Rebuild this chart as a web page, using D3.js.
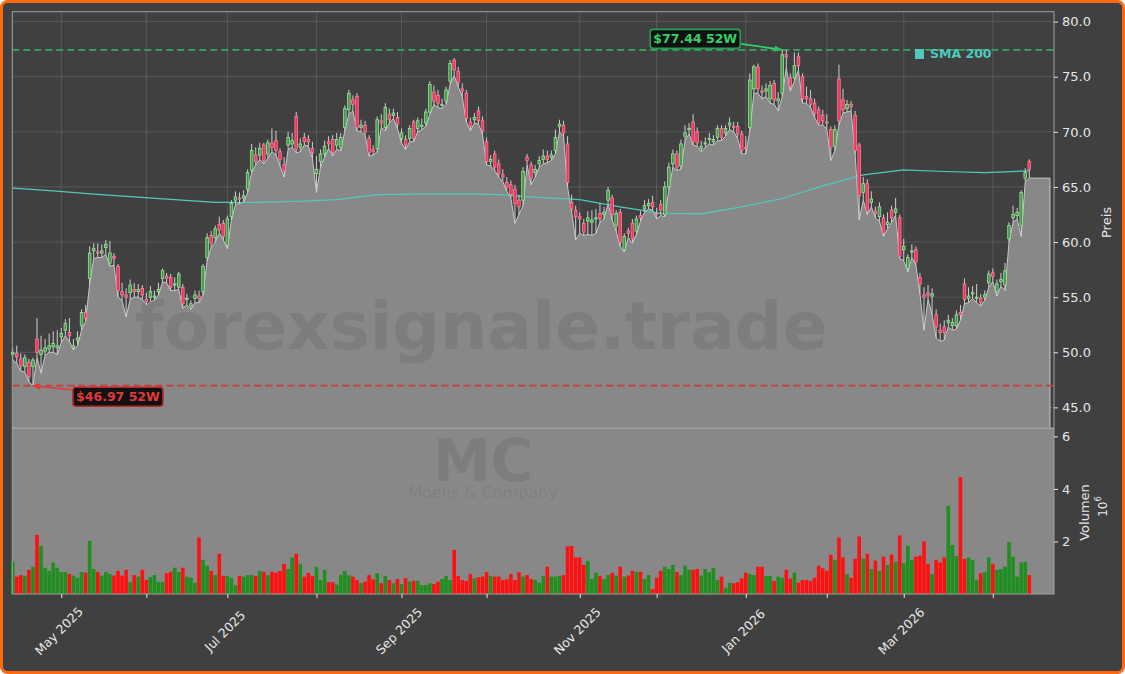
<!DOCTYPE html>
<html>
<head>
<meta charset="utf-8">
<script src="https://cdn.jsdelivr.net/npm/d3@7"></script>
<style>
html, body { margin: 0; padding: 0; background: #ffffff; }
svg { display: block; font-family: "DejaVu Sans", sans-serif; }
</style>
</head>
<body>
<div id="chart"></div>
<script>
// MC daily candles, index = trading day (Apr 14 2025 .. Apr 15 2026)
var opens = [
  49.8,49.9,49.4,48.7,49.1,48.7,51.2,49.8,50.1,50.3,
  50.5,50.4,51.4,52.0,51.8,50.4,51.1,52.4,53.6,56.7,
  59.2,59.1,59.0,59.5,58.1,58.7,57.8,55.5,55.2,55.4,
  55.7,55.5,55.8,54.8,55.0,55.0,55.5,56.7,56.9,56.8,
  56.1,55.9,55.9,54.8,54.2,54.9,55.1,55.5,58.6,60.6,
  60.4,61.6,61.7,59.7,62.3,63.8,64.0,64.0,64.8,66.5,
  67.9,67.9,68.8,68.0,69.0,69.2,68.2,67.0,68.8,68.9,
  71.4,68.6,69.5,69.3,68.5,66.2,67.3,68.0,69.1,69.3,
  68.8,68.6,70.4,72.0,72.9,73.2,70.4,70.6,69.4,68.4,
  68.5,71.0,70.4,71.6,71.5,71.3,69.4,69.3,69.4,70.9,
  70.3,70.5,70.8,71.8,73.6,73.3,72.4,72.8,74.6,76.5,
  75.5,73.9,73.5,70.9,71.1,71.9,71.0,69.1,67.3,68.0,
  67.1,66.1,65.4,65.2,64.8,63.8,63.8,67.7,67.0,66.3,
  67.1,67.5,67.8,67.7,68.3,70.5,70.6,68.9,63.6,62.9,
  62.3,61.7,61.9,61.8,62.1,62.6,62.5,63.8,64.0,61.5,
  62.7,59.3,61.0,61.7,61.0,62.4,63.0,63.3,63.6,62.6,
  63.4,62.5,65.0,67.1,68.0,66.9,69.6,70.2,70.9,70.0,
  68.5,68.9,69.3,69.1,69.5,70.3,69.9,70.6,70.5,70.5,
  69.8,68.6,70.4,73.9,75.9,73.7,73.7,73.0,74.4,72.8,
  73.5,77.0,74.9,74.9,76.8,75.0,73.2,73.0,72.6,72.0,
  71.5,70.9,70.2,68.7,74.8,72.9,72.1,72.5,71.5,68.8,
  64.5,65.3,63.6,62.8,62.3,62.2,61.6,62.9,62.7,62.2,
  59.3,57.6,59.1,59.3,56.8,55.2,55.4,55.1,53.4,52.0,
  52.3,52.7,52.4,52.4,53.6,56.2,54.9,55.3,54.9,54.9,
  55.0,56.3,57.2,55.5,56.4,56.1,60.3,62.2,62.4,61.5,
  65.8,67.3
];
var closes = [
  50.0,49.6,48.8,49.5,47.8,49.3,50.0,50.2,50.4,50.6,
  50.8,50.6,51.7,52.6,51.5,50.6,51.3,53.6,53.1,59.0,
  59.4,59.0,59.2,59.8,59.0,58.5,55.6,55.2,55.0,56.1,
  55.5,55.7,55.2,54.6,55.5,55.1,55.7,57.4,56.7,55.9,
  56.2,57.1,54.4,54.9,54.4,55.2,54.9,57.8,60.4,59.9,
  61.2,61.1,60.5,62.1,63.5,64.1,63.9,64.2,66.3,68.3,
  67.3,68.5,67.4,69.0,68.6,68.3,67.5,66.5,69.5,69.2,
  68.4,68.9,69.1,69.1,68.1,66.6,68.0,68.7,68.9,68.1,
  69.3,69.5,72.1,73.5,72.5,70.4,70.6,70.0,68.1,68.2,
  71.1,70.8,72.2,71.1,71.7,70.7,69.9,68.8,70.3,69.4,
  71.0,70.6,71.8,74.3,72.8,72.6,72.5,73.8,76.2,75.6,
  74.5,73.7,71.2,70.5,71.3,71.0,70.1,67.3,67.5,66.8,
  66.2,65.9,65.0,64.3,63.5,63.2,66.4,67.4,65.8,66.6,
  67.4,67.8,67.5,67.9,69.5,70.7,69.9,65.4,63.0,62.3,
  62.1,60.9,62.2,62.0,62.2,62.1,62.7,64.7,62.5,62.6,
  60.0,60.5,60.8,60.3,62.1,62.2,63.3,63.5,63.2,62.5,
  62.9,65.0,66.8,68.0,66.8,68.9,69.9,70.3,69.1,69.0,
  68.7,69.0,69.4,69.3,70.3,69.5,70.3,70.8,70.4,69.8,
  68.3,68.5,74.7,75.9,73.9,73.6,73.9,74.2,72.9,73.0,
  77.0,76.8,74.1,76.0,76.0,73.0,73.0,72.5,71.7,70.8,
  71.0,70.8,68.6,70.2,71.0,72.0,72.5,72.3,68.3,64.2,
  65.3,62.8,63.9,62.6,63.2,60.8,61.8,62.2,63.0,58.7,
  59.6,58.6,59.2,58.2,56.2,55.0,55.2,55.3,52.3,51.8,
  51.8,52.9,52.7,53.4,53.4,54.8,55.1,55.4,55.0,54.5,
  55.2,57.1,56.9,56.2,56.6,57.4,61.5,62.5,62.7,64.5,
  66.3,66.6
];
var highs = [
  50.4,50.6,49.9,49.8,49.4,49.5,53.1,51.5,51.2,51.7,
  51.9,52.0,52.2,53.0,53.1,51.2,51.9,53.9,54.3,59.6,
  59.9,59.9,59.8,60.2,60.1,59.0,58.0,56.3,55.8,56.6,
  56.3,56.2,56.1,55.4,56.0,55.6,56.3,57.6,57.2,57.1,
  56.8,57.3,56.2,55.3,54.7,55.6,55.6,58.0,60.8,61.0,
  61.5,62.3,62.0,62.4,63.8,64.6,64.5,64.7,66.6,68.9,
  68.6,69.0,69.0,69.3,70.3,70.1,68.5,67.7,70.0,69.9,
  71.8,69.4,69.9,69.7,69.1,67.8,68.4,69.2,69.6,69.7,
  69.9,69.9,72.4,73.8,73.3,73.5,71.1,71.0,69.7,68.8,
  71.4,71.6,72.6,72.1,72.1,71.8,70.3,69.7,70.6,71.1,
  71.3,71.2,72.1,74.6,74.2,73.8,73.0,74.1,76.5,76.7,
  75.9,74.4,73.8,71.3,71.7,72.3,71.4,69.5,67.9,68.3,
  67.5,66.6,65.9,65.6,65.2,64.3,66.8,68.0,67.3,67.0,
  67.8,68.4,68.3,68.3,70.2,71.1,71.0,69.6,64.3,63.3,
  62.7,62.1,62.8,62.9,63.0,63.5,63.2,65.0,64.3,62.9,
  63.0,60.8,61.3,62.1,62.4,62.8,63.8,63.9,64.2,63.1,
  63.8,65.5,67.2,68.4,68.3,69.3,70.6,70.8,71.6,70.4,
  69.2,69.5,69.9,69.7,70.6,70.6,70.6,71.3,70.9,70.9,
  70.1,69.6,75.3,76.1,76.2,74.2,74.4,74.6,74.7,73.6,
  77.44,77.4,75.3,77.2,77.2,75.3,74.1,73.8,73.0,72.3,
  72.0,71.6,70.5,70.6,76.1,73.9,72.9,72.8,71.9,69.0,
  65.9,65.7,64.6,63.2,63.6,62.5,62.7,63.3,64.0,62.5,
  60.3,58.9,59.8,59.6,57.2,55.9,56.1,55.8,53.9,52.6,
  52.9,53.4,53.1,53.8,54.3,56.7,55.9,56.0,56.2,55.3,
  55.6,57.4,57.6,56.6,57.2,58.1,61.8,63.3,63.1,64.7,
  66.7,67.5
];
var lows = [
  49.3,49.0,48.3,48.2,47.3,46.97,49.5,48.1,49.7,50.0,
  50.0,49.8,50.9,51.5,51.0,50.2,50.6,52.0,52.8,56.2,
  58.5,58.6,58.6,58.9,57.8,57.9,55.0,54.7,53.2,54.8,
  55.0,55.0,54.8,54.3,54.6,54.7,55.2,56.4,56.3,55.6,
  55.6,55.7,54.0,54.3,53.9,54.5,54.5,55.2,58.3,59.5,
  60.0,60.8,60.2,59.4,62.0,63.4,63.5,63.6,64.5,66.3,
  67.0,67.5,67.1,67.6,68.2,67.9,66.9,65.9,68.4,68.6,
  68.1,68.2,68.8,68.7,67.6,64.5,66.8,67.7,68.5,67.8,
  68.4,68.3,70.1,71.6,71.9,70.1,70.0,69.7,67.8,67.9,
  68.2,70.4,70.1,70.8,71.2,70.3,69.0,68.4,69.1,69.1,
  70.0,70.2,70.5,71.6,72.5,72.2,72.1,72.5,74.3,75.1,
  74.1,73.2,70.9,70.1,70.8,70.7,69.8,67.0,66.9,66.5,
  65.9,65.5,64.6,64.0,61.7,62.5,63.3,67.0,65.2,65.9,
  66.8,67.1,67.2,67.4,68.0,70.0,69.6,65.0,62.7,60.2,
  60.8,60.6,60.7,60.6,60.8,61.8,62.1,63.5,62.0,61.0,
  59.6,59.1,60.4,59.9,60.7,61.9,62.7,63.0,62.9,62.1,
  62.4,62.3,64.7,66.8,66.5,66.6,69.2,69.8,68.8,68.7,
  68.2,68.6,68.9,68.8,69.2,69.2,69.6,70.2,70.0,69.4,
  68.0,68.0,70.1,73.5,73.5,73.0,73.2,72.6,72.5,71.9,
  73.2,75.8,73.7,74.6,75.6,72.6,72.6,72.2,71.3,70.6,
  70.6,70.3,67.4,68.3,70.6,71.7,71.8,71.9,68.0,62.0,
  63.8,62.5,63.2,62.2,61.9,60.5,61.2,61.8,62.4,58.5,
  58.3,57.3,58.6,57.9,55.3,52.0,54.8,53.4,51.3,51.0,
  51.1,52.3,52.0,52.1,52.9,54.4,54.5,54.9,54.5,54.2,
  54.7,55.9,56.4,55.1,56.0,55.6,60.0,61.8,62.1,60.5,
  65.5,65.8
];
// volume in millions
var volumes = [
  1.23,0.66,0.72,0.69,0.92,1.04,2.25,1.83,1.00,0.88,
  1.20,1.00,0.84,0.84,0.76,0.70,0.62,0.84,0.81,2.02,
  0.95,0.84,0.70,0.84,0.76,0.70,0.88,0.70,0.92,0.46,
  0.72,0.66,0.92,0.53,0.64,0.72,0.46,0.46,0.79,0.85,
  1.00,0.84,1.00,0.66,0.62,0.43,2.15,1.30,1.08,0.88,
  0.72,1.53,0.69,0.69,0.61,0.34,0.69,0.66,0.72,0.72,
  0.69,0.88,0.84,0.72,0.84,0.81,0.88,1.15,0.95,1.39,
  1.53,1.15,0.66,0.80,0.69,1.03,0.53,0.92,0.45,0.45,
  0.36,0.72,0.88,0.71,0.66,0.53,0.41,0.47,0.72,0.56,
  0.79,0.41,0.69,0.53,0.41,0.57,0.38,0.60,0.47,0.50,
  0.50,0.34,0.34,0.41,0.38,0.47,0.57,0.69,0.53,1.68,
  0.69,0.53,0.50,0.76,0.60,0.64,0.66,0.83,0.69,0.66,
  0.66,0.53,0.56,0.76,0.53,0.83,0.66,0.72,0.57,0.53,
  0.43,0.69,1.04,0.66,0.66,0.69,0.72,1.81,1.83,1.39,
  1.39,1.11,1.26,0.57,0.81,0.69,0.57,0.72,0.81,0.70,
  1.04,0.66,0.70,0.88,0.84,0.84,0.57,0.72,0.19,0.62,
  0.88,1.04,0.95,1.11,0.84,0.72,1.08,0.92,0.92,0.95,
  0.70,0.95,0.83,0.99,0.53,0.66,0.24,0.43,0.41,0.45,
  0.60,0.81,0.76,0.72,1.04,1.04,0.69,0.69,0.50,0.66,
  0.61,0.92,0.59,0.81,0.43,0.53,0.53,0.50,0.62,1.08,
  0.98,0.88,1.50,1.30,2.15,1.39,0.76,0.62,1.34,2.19,
  1.34,1.53,0.95,1.27,0.88,1.42,1.11,1.50,1.23,2.23,
  1.17,1.84,1.30,1.42,1.46,2.00,1.15,0.76,1.30,1.20,
  1.39,3.36,1.87,1.45,4.45,1.34,1.39,1.30,0.53,0.79,
  0.83,1.39,1.15,0.92,0.95,1.04,1.97,1.42,0.66,1.20,
  1.22,0.72
];
// 200-day SMA, read at sample points
var smaIdx = [0,10,20,30,40,50,60,70,80,90,100,110,120,130,140,150,160,170,180,190,200,210,220,230,240,251];
var smaVal = [64.9,64.65,64.35,64.1,63.85,63.6,63.6,63.7,63.85,64.3,64.35,64.4,64.3,64.05,63.85,63.2,62.6,62.55,63.2,63.95,65.1,66.1,66.55,66.4,66.3,66.45];

// first trading day of each month
var tickIdx = [12,33,53,75,96,117,140,159,181,201,220,242];
var tickLabels = ["May 2025","","Jul 2025","","Sep 2025","","Nov 2025","","Jan 2026","","Mar 2026",""];
var priceTicks = [45,50,55,60,65,70,75,80];
var volTicks = [2,4,6];

var yearHigh = 77.44, yearHighIdx = 190;
var yearLow = 46.97, yearLowIdx = 5;

var W = 1125, H = 674;
var L = 12.3, R = 1054;
var pTop = 11.7, pBot = 428, vTop = 428.5, vBot = 594;
var bg = "#404040", light = "#e6e6e6", panelGray = "#888888";

var svg = d3.select("#chart").append("svg")
    .attr("width", W).attr("height", H);

svg.append("rect")
    .attr("x", 1.5).attr("y", 1.5).attr("width", W - 3).attr("height", H - 3)
    .attr("rx", 6).attr("fill", bg).attr("stroke", "#ff6a10").attr("stroke-width", 3);

var x = d3.scaleLinear().domain([-0.1, 257.1]).range([L, R]);
var y = d3.scaleLinear().domain([43.13, 80.9]).range([pBot, pTop]);
var vy = d3.scaleLinear().domain([0, 6.3]).range([vBot, vTop]);

// ---- price panel ----
var price = svg.append("g");

price.append("g").selectAll("line.h").data(priceTicks).enter().append("line")
    .attr("x1", L).attr("x2", R)
    .attr("y1", function (d) { return y(d); }).attr("y2", function (d) { return y(d); })
    .attr("stroke", "#5e5e5e").attr("stroke-width", 0.8);
price.append("g").selectAll("line.v").data(tickIdx).enter().append("line")
    .attr("x1", function (d) { return x(d); }).attr("x2", function (d) { return x(d); })
    .attr("y1", pTop).attr("y2", pBot)
    .attr("stroke", "#5e5e5e").attr("stroke-width", 0.8);

// filled area under the lows, held flat past the last bar
var areaEnd = 256.1;
var lowPts = lows.map(function (v, i) { return [i, v]; });
lowPts.push([areaEnd, lows[lows.length - 1]]);

var area = d3.area()
    .x(function (d) { return x(d[0]); })
    .y0(pBot)
    .y1(function (d) { return y(d[1]); });
price.append("path").datum(lowPts)
    .attr("d", area).attr("fill", panelGray);

var edge = lowPts.concat([[areaEnd, y.invert(pBot)]]);
price.append("path").datum(edge)
    .attr("d", d3.line().x(function (d) { return x(d[0]); }).y(function (d) { return y(d[1]); }))
    .attr("fill", "none").attr("stroke", "#c8c8c8").attr("stroke-width", 1);

price.append("text")
    .attr("x", 481).attr("y", 349)
    .attr("text-anchor", "middle")
    .attr("font-size", 66).attr("font-weight", "bold")
    .attr("textLength", 693).attr("lengthAdjust", "spacingAndGlyphs")
    .attr("fill", "#000").attr("fill-opacity", 0.08)
    .text("forexsignale.trade");

// SMA 200
price.append("path").datum(smaIdx.map(function (d, i) { return [d, smaVal[i]]; }))
    .attr("d", d3.line().x(function (d) { return x(d[0]); }).y(function (d) { return y(d[1]); }))
    .attr("fill", "none").attr("stroke", "#4fc9c0").attr("stroke-width", 1.2);

// 52 week lines
price.append("line")
    .attr("x1", L).attr("x2", R).attr("y1", y(yearHigh)).attr("y2", y(yearHigh))
    .attr("stroke", "#33a862").attr("stroke-width", 1.6).attr("stroke-dasharray", "7,4");
price.append("line")
    .attr("x1", L).attr("x2", R).attr("y1", y(yearLow)).attr("y2", y(yearLow))
    .attr("stroke", "#cc3a3a").attr("stroke-width", 1.8).attr("stroke-dasharray", "7,4");

// candles
var candles = price.append("g").selectAll("g").data(opens).enter().append("g");
candles.append("line")
    .attr("x1", function (d, i) { return x(i); }).attr("x2", function (d, i) { return x(i); })
    .attr("y1", function (d, i) { return y(highs[i]); })
    .attr("y2", function (d, i) { return y(lows[i]); })
    .attr("stroke", "#cfcfcf").attr("stroke-width", 1);
candles.append("rect")
    .attr("x", function (d, i) { return x(i) - 1.3; })
    .attr("width", 2.6)
    .attr("y", function (d, i) { return y(Math.max(d, closes[i])); })
    .attr("height", function (d, i) { return Math.max(0.8, Math.abs(y(d) - y(closes[i]))); })
    .attr("fill", function (d, i) { return closes[i] >= d ? "#4f8f55" : "#e8365e"; })
    .attr("stroke", function (d, i) { return closes[i] >= d ? "#90ee90" : "#ff7f98"; })
    .attr("stroke-width", 0.8);

price.append("rect")
    .attr("x", L).attr("y", pTop).attr("width", R - L).attr("height", pBot - pTop)
    .attr("fill", "none").attr("stroke", "#a0a0a0").attr("stroke-width", 1);

// annotations
var defs = svg.append("defs");
[["hiArrow", "#2fbf5f"], ["loArrow", "#e03a3a"]].forEach(function (m) {
    defs.append("marker").attr("id", m[0])
        .attr("viewBox", "0 0 10 10").attr("refX", 10).attr("refY", 5)
        .attr("markerWidth", 8).attr("markerHeight", 8).attr("markerUnits", "userSpaceOnUse")
        .attr("orient", "auto")
        .append("path").attr("d", "M0,1L10,5L0,9Z").attr("fill", m[1]);
});

function label(px, py, dx, dy, ax, ay, txt, col, edgeCol, marker) {
    price.append("line")
        .attr("x1", px + ax).attr("y1", py + ay).attr("x2", px).attr("y2", py)
        .attr("stroke", col).attr("stroke-width", 1.6).attr("marker-end", "url(#" + marker + ")");
    price.append("rect")
        .attr("x", px + dx - 45).attr("y", py + dy - 9.5).attr("width", 90).attr("height", 19)
        .attr("rx", 3).attr("fill", "#111").attr("stroke", edgeCol).attr("stroke-width", 1.6);
    price.append("text")
        .attr("x", px + dx).attr("y", py + dy).attr("dy", "0.36em")
        .attr("text-anchor", "middle").attr("font-size", 12.5).attr("font-weight", "bold")
        .attr("fill", col).text(txt);
}
label(x(yearHighIdx), y(yearHigh), -87, -11, -41, -6, "$" + yearHigh.toFixed(2) + " 52W", "#36d06a", "#22a050", "hiArrow");
label(x(yearLowIdx) - 1, y(yearLow), 86, 11, 40, 4, "$" + yearLow.toFixed(2) + " 52W", "#e03a3a", "#b82828", "loArrow");

// legend
price.append("rect").attr("x", 915).attr("y", 49).attr("width", 9).attr("height", 10).attr("fill", "#4fc9c0");
price.append("text").attr("x", 930).attr("y", 58)
    .attr("font-size", 12.5).attr("font-weight", "bold").attr("fill", "#4fc9c0").text("SMA 200");

// ---- volume panel ----
var vol = svg.append("g");
vol.append("rect")
    .attr("x", L).attr("y", vTop).attr("width", R - L).attr("height", vBot - vTop)
    .attr("fill", panelGray);

vol.append("text").attr("x", 483).attr("y", 481)
    .attr("text-anchor", "middle").attr("font-size", 58).attr("font-weight", "bold")
    .attr("fill", "#000").attr("fill-opacity", 0.08).text("MC");
vol.append("text").attr("x", 483).attr("y", 498)
    .attr("text-anchor", "middle").attr("font-size", 16)
    .attr("fill", "#000").attr("fill-opacity", 0.08).text("Moelis & Company");

vol.append("g").selectAll("rect").data(volumes).enter().append("rect")
    .attr("x", function (d, i) { return x(i) - 1.8; })
    .attr("width", 3.6)
    .attr("y", function (d) { return vy(d); })
    .attr("height", function (d) { return vy(0) - vy(d); })
    .attr("fill", function (d, i) { return closes[i] >= opens[i] ? "#1f8f1f" : "#ff1010"; });

vol.append("rect")
    .attr("x", L).attr("y", vTop).attr("width", R - L).attr("height", vBot - vTop)
    .attr("fill", "none").attr("stroke", "#a0a0a0").attr("stroke-width", 1);

// ---- axes ----
function styleAxis(g) {
    g.select(".domain").remove();
    g.selectAll("line").attr("stroke", light);
    g.selectAll("text").attr("fill", light).attr("font-size", 13).attr("font-family", "DejaVu Sans");
}

svg.append("g").attr("transform", "translate(" + R + ",0)")
    .call(d3.axisRight(y).tickValues(priceTicks).tickSize(4).tickPadding(4).tickFormat(d3.format(".1f")))
    .call(styleAxis);

svg.append("g").attr("transform", "translate(" + R + ",0)")
    .call(d3.axisRight(vy).tickValues(volTicks).tickSize(4).tickPadding(4).tickFormat(d3.format("d")))
    .call(styleAxis);

var xa = svg.append("g").attr("transform", "translate(0," + vBot + ")")
    .call(d3.axisBottom(x).tickValues(tickIdx).tickSize(4).tickFormat(function (d, i) { return tickLabels[i]; }))
    .call(styleAxis);
xa.selectAll("text")
    .attr("y", null).attr("dy", null)
    .attr("text-anchor", "middle").attr("dominant-baseline", "central")
    .attr("font-size", 12.5)
    .attr("transform", "translate(-3,37) rotate(-45)");

svg.append("text").attr("transform", "translate(1106.5,222.5) rotate(-90)")
    .attr("text-anchor", "middle").attr("dominant-baseline", "central")
    .attr("font-size", 13).attr("fill", light).text("Preis");
svg.append("text").attr("transform", "translate(1084,512.5) rotate(-90)")
    .attr("text-anchor", "middle").attr("dominant-baseline", "central")
    .attr("font-size", 13).attr("fill", light).text("Volumen");
var off = svg.append("text").attr("transform", "translate(1102.5,506.5) rotate(-90)")
    .attr("text-anchor", "middle").attr("dominant-baseline", "central")
    .attr("font-size", 12).attr("fill", light);
off.append("tspan").text("10");
off.append("tspan").attr("font-size", 8.5).attr("dy", "-0.5em").text("6");
</script>
</body>
</html>
